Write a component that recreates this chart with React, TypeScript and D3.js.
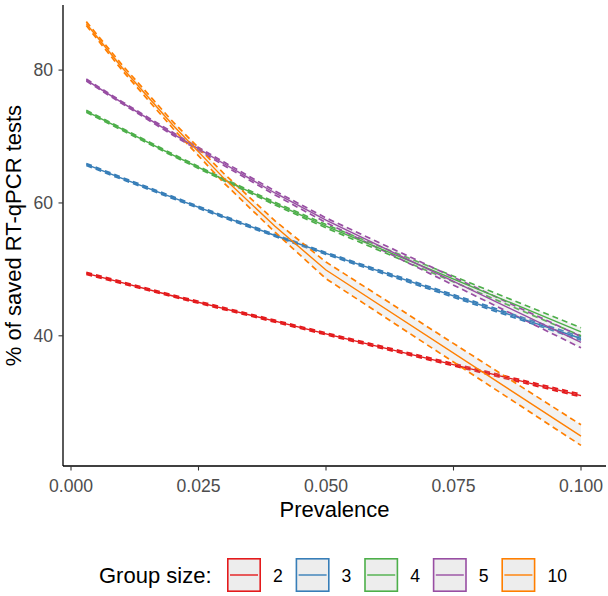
import React, { useEffect, useRef } from "react";
import * as d3 from "d3";

// prevalence values where the curves were computed
const prevalence = [0.003, 0.01, 0.02, 0.03, 0.04, 0.05, 0.1];

const groupSizes = ["2", "3", "4", "5", "10"];
const groupColors = ["#E41A1C", "#377EB8", "#4DAF4A", "#984EA3", "#FF7F00"];

// % of saved tests, with lower / upper bounds (dashed lines)
const saved2 = [49.4, 48.0, 46.0, 44.1, 42.2, 40.3, 31.0];
const saved2Lower = [49.25, 47.85, 45.85, 43.95, 42.05, 40.15, 30.8];
const saved2Upper = [49.55, 48.15, 46.15, 44.25, 42.35, 40.45, 31.2];

const saved3 = [65.8, 63.7, 60.8, 57.9, 55.1, 52.4, 39.6];
const saved3Lower = [65.65, 63.55, 60.65, 57.75, 54.95, 52.25, 39.35];
const saved3Upper = [65.95, 63.85, 60.95, 58.05, 55.25, 52.55, 39.85];

const saved4 = [73.8, 71.1, 67.2, 63.5, 59.9, 56.5, 40.6];
const saved4Lower = [73.65, 70.95, 67.05, 63.35, 59.7, 56.25, 40.0];
const saved4Upper = [73.95, 71.25, 67.35, 63.65, 60.1, 56.75, 41.2];

const saved5 = [78.5, 75.1, 70.4, 65.9, 61.5, 57.4, 39.0];
const saved5Lower = [78.35, 74.95, 70.2, 65.65, 61.2, 57.05, 38.2];
const saved5Upper = [78.65, 75.25, 70.6, 66.15, 61.8, 57.75, 39.9];

const saved10 = [87.0, 80.4, 71.7, 63.7, 56.5, 49.9, 24.9];
const saved10Lower = [86.7, 80.0, 71.2, 63.0, 55.6, 48.6, 23.5];
const saved10Upper = [87.3, 80.8, 72.2, 64.4, 57.3, 51.1, 26.6];

const xTicks = [0, 0.025, 0.05, 0.075, 0.1];
const yTicks = [40, 60, 80];

const FONT = "'Liberation Sans', Arial, Helvetica, sans-serif";

export default function App() {
  const ref = useRef<SVGSVGElement>(null);

  useEffect(() => {
    const svg = d3.select(ref.current);
    svg.selectAll("*").remove();

    const panel = { left: 63, right: 606, top: 5, bottom: 466 };

    const xScale = d3.scaleLinear().domain([0, 0.1]).range([71, 581]);
    const yScale = d3.scaleLinear().domain([20.4, 89.8]).range([panel.bottom, panel.top]);

    const series = [
      { mid: saved2, lo: saved2Lower, hi: saved2Upper },
      { mid: saved3, lo: saved3Lower, hi: saved3Upper },
      { mid: saved4, lo: saved4Lower, hi: saved4Upper },
      { mid: saved5, lo: saved5Lower, hi: saved5Upper },
      { mid: saved10, lo: saved10Lower, hi: saved10Upper },
    ].map((s, i) => ({
      color: groupColors[i],
      label: groupSizes[i],
      points: prevalence.map((p, j) => ({ p, mid: s.mid[j], lo: s.lo[j], hi: s.hi[j] })),
    }));

    const area = d3
      .area<any>()
      .x((d) => xScale(d.p))
      .y0((d) => yScale(d.lo))
      .y1((d) => yScale(d.hi));
    const lineOf = (key: string) =>
      d3
        .line<any>()
        .x((d) => xScale(d.p))
        .y((d) => yScale(d[key]));

    const plot = svg.append("g");

    // ribbons with dashed borders
    series.forEach((s) => {
      plot
        .append("path")
        .attr("d", area(s.points))
        .attr("fill", "#bebebe")
        .attr("fill-opacity", 0.2);
      ["hi", "lo"].forEach((k) => {
        plot
          .append("path")
          .attr("d", lineOf(k)(s.points))
          .attr("fill", "none")
          .attr("stroke", s.color)
          .attr("stroke-width", 1.7)
          .attr("stroke-dasharray", "6,4");
      });
    });

    // centre lines
    plot
      .selectAll(".mid-line")
      .data(series)
      .join("path")
      .attr("class", "mid-line")
      .attr("d", (s) => lineOf("mid")(s.points))
      .attr("fill", "none")
      .attr("stroke", (s) => s.color)
      .attr("stroke-width", 1.4);

    // axes
    const axes = svg.append("g");
    axes
      .append("line")
      .attr("x1", panel.left)
      .attr("x2", panel.left)
      .attr("y1", panel.top)
      .attr("y2", panel.bottom)
      .attr("stroke", "black")
      .attr("stroke-width", 1.3);
    axes
      .append("line")
      .attr("x1", panel.left)
      .attr("x2", panel.right)
      .attr("y1", panel.bottom)
      .attr("y2", panel.bottom)
      .attr("stroke", "black")
      .attr("stroke-width", 1.3);

    axes
      .selectAll(".x-tick")
      .data(xTicks)
      .join("line")
      .attr("class", "x-tick")
      .attr("x1", (d) => xScale(d))
      .attr("x2", (d) => xScale(d))
      .attr("y1", panel.bottom)
      .attr("y2", panel.bottom + 4.5)
      .attr("stroke", "#333333")
      .attr("stroke-width", 1.1);
    axes
      .selectAll(".x-label")
      .data(xTicks)
      .join("text")
      .attr("class", "x-label")
      .attr("x", (d) => xScale(d))
      .attr("y", 492)
      .attr("text-anchor", "middle")
      .attr("fill", "#4D4D4D")
      .style("font-family", FONT)
      .style("font-size", "17.6px")
      .text((d) => d3.format(".3f")(d));

    axes
      .selectAll(".y-tick")
      .data(yTicks)
      .join("line")
      .attr("class", "y-tick")
      .attr("x1", panel.left - 4.5)
      .attr("x2", panel.left)
      .attr("y1", (d) => yScale(d))
      .attr("y2", (d) => yScale(d))
      .attr("stroke", "#333333")
      .attr("stroke-width", 1.1);
    axes
      .selectAll(".y-label")
      .data(yTicks)
      .join("text")
      .attr("class", "y-label")
      .attr("x", 53)
      .attr("y", (d) => yScale(d) + 6.3)
      .attr("text-anchor", "end")
      .attr("fill", "#4D4D4D")
      .style("font-family", FONT)
      .style("font-size", "17.6px")
      .text((d) => d);

    axes
      .append("text")
      .attr("x", (panel.left + panel.right) / 2)
      .attr("y", 517)
      .attr("text-anchor", "middle")
      .style("font-family", FONT)
      .style("font-size", "22px")
      .text("Prevalence");
    axes
      .append("text")
      .attr("transform", `translate(21, ${(panel.top + panel.bottom) / 2}) rotate(-90)`)
      .attr("text-anchor", "middle")
      .style("font-family", FONT)
      .style("font-size", "22px")
      .text("% of saved RT-qPCR tests");

    // legend
    const legend = svg.append("g");
    legend
      .append("text")
      .attr("x", 99)
      .attr("y", 583)
      .style("font-family", FONT)
      .style("font-size", "22px")
      .text("Group size:");

    const items = legend
      .selectAll(".key")
      .data(series)
      .join("g")
      .attr("class", "key")
      .attr("transform", (d, i) => `translate(${227 + i * 68.6}, 558)`);
    items
      .append("rect")
      .attr("x", 0.8)
      .attr("y", 0.8)
      .attr("width", 32.4)
      .attr("height", 32.4)
      .attr("fill", "#EDEDED")
      .attr("stroke", (d) => d.color)
      .attr("stroke-width", 1.6);
    items
      .append("line")
      .attr("x1", 3)
      .attr("x2", 31)
      .attr("y1", 17)
      .attr("y2", 17)
      .attr("stroke", (d) => d.color)
      .attr("stroke-width", 1.4);
    items
      .append("text")
      .attr("x", 46)
      .attr("y", 23.5)
      .style("font-family", FONT)
      .style("font-size", "17.6px")
      .text((d) => d.label);
  }, []);

  return (
    <div style={{ position: "absolute", left: 0, top: 0 }}>
      <svg ref={ref} width={608} height={596} style={{ display: "block", background: "white" }}></svg>
    </div>
  );
}
